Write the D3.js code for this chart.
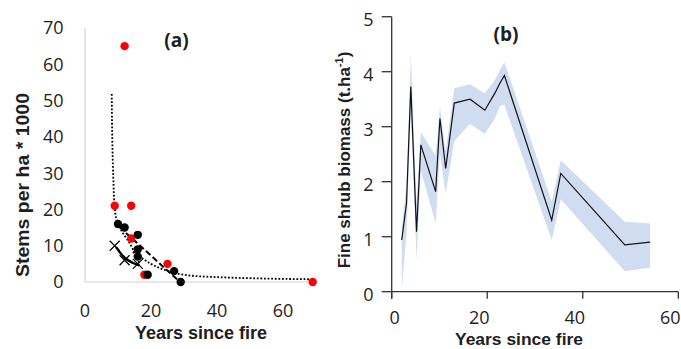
<!DOCTYPE html>
<html>
<head>
<meta charset="utf-8">
<script src="https://cdn.jsdelivr.net/npm/d3@7"></script>
<style>
  html, body { margin: 0; padding: 0; background: #fff; }
  svg { display: block; font-family: "Open Sans", "Noto Sans", sans-serif; }
</style>
</head>
<body>
<svg id="chart" width="681" height="349"></svg>
<script>
// ---------- Panel (a) data ----------
const redX   = [12, 9, 14, 14, 18, 25, 69];
const redY   = [65, 21, 21, 12, 2, 5, 0];
const blackX = [10, 12, 16, 16, 16, 19, 27, 29];
const blackY = [16, 15, 13, 9, 7, 2, 3, 0];
const crossX = [9, 12, 16];
const crossY = [10, 6, 5];
// trend lines
const dotted1X = [8.1, 8.6, 8.9, 9.6, 10.4, 13.9, 16.5];
const dotted1Y = [51.8, 28.1, 21.7, 17, 15.2, 10.1, 5.0];
const dotted2X = [14.5, 16, 20, 24.5, 31.1, 40, 50, 69.1];
const dotted2Y = [8.3, 7.4, 5.0, 3.2, 1.85, 1.35, 1.05, 0.74];
const dashedX  = [10.4, 28.8];
const dashedY  = [15.2, 0];
const solidX   = [9.4, 10.9, 12.4, 14.4, 16.5];
const solidY   = [9.6, 7.8, 6.4, 5.3, 4.6];
const aTicksX = [0, 20, 40, 60];
const aTicksY = [0, 10, 20, 30, 40, 50, 60, 70];

// ---------- Panel (b) data ----------
const bX  = [2.1, 3.1, 4.0, 5.2, 6.1, 9.2, 10.1, 11.3, 13.1, 16.4, 19.5, 21.6, 22.7, 23.6, 33.5, 35.4, 48.8, 54.1];
const bY  = [0.94, 1.61, 3.73, 1.09, 2.67, 1.82, 3.15, 2.24, 3.43, 3.50, 3.30, 3.61, 3.80, 3.93, 1.30, 2.15, 0.85, 0.90];
const bLo = [0.05, 1.05, 3.3, 0.58, 2.2, 1.25, 2.5, 1.78, 2.74, 3.05, 2.87, 3.15, 3.38, 3.40, 0.94, 1.68, 0.37, 0.44];
const bHi = [1.15, 1.95, 4.32, 1.6, 2.9, 2.47, 3.36, 2.55, 3.70, 3.77, 3.61, 3.85, 4.04, 4.17, 1.64, 2.39, 1.27, 1.24];
const bTicksX = [0, 20, 40, 60];
const bTicksY = [0, 1, 2, 3, 4, 5];

const svg = d3.select("#chart");
const txt = "#1e1e1e";
const titleFont = '"Liberation Sans", Arial, sans-serif';

// ================= Panel (a) =================
const xA = d3.scaleLinear().domain([0, 70]).range([85, 316]);
const yA = d3.scaleLinear().domain([0, 70]).range([282, 28]);
const gA = svg.append("g");

// axis lines (light grey, Excel style)
gA.append("line").attr("x1", xA(0)).attr("x2", xA(0)).attr("y1", yA(70)).attr("y2", yA(0))
  .attr("stroke", "#d4d4d4").attr("stroke-width", 1.2);
gA.append("line").attr("x1", xA(0)).attr("x2", xA(70)).attr("y1", yA(0)).attr("y2", yA(0))
  .attr("stroke", "#d4d4d4").attr("stroke-width", 1.2);

// tick labels
gA.selectAll(".ayl").data(aTicksY).join("text")
  .attr("x", 63.5).attr("y", d => yA(d)).attr("dy", "0.36em")
  .attr("text-anchor", "end").attr("font-size", 18).attr("fill", txt).text(d => d);
gA.selectAll(".axl").data(aTicksX).join("text")
  .attr("x", d => xA(d)).attr("y", 316.5)
  .attr("text-anchor", "middle").attr("font-size", 18).attr("fill", txt).text(d => d);

// titles
gA.append("text").attr("x", 201).attr("y", 338.5).attr("text-anchor", "middle")
  .attr("font-family", titleFont)
  .attr("font-size", 17.5).attr("font-weight", "bold").attr("fill", txt)
  .attr("textLength", 132).attr("lengthAdjust", "spacingAndGlyphs").text("Years since fire");
gA.append("text").attr("transform", "translate(29,185) rotate(-90)").attr("text-anchor", "middle")
  .attr("font-family", titleFont)
  .attr("font-size", 18).attr("font-weight", "bold").attr("fill", txt)
  .attr("textLength", 184).attr("lengthAdjust", "spacingAndGlyphs").text("Stems per ha * 1000");
gA.append("text").attr("x", 176.5).attr("y", 47).attr("text-anchor", "middle")
  .attr("font-size", 19).attr("font-weight", "bold").attr("fill", txt).text("(a)");

// trend lines
const lineA = (xs, ys, curve) => d3.line().x(i => xA(xs[i])).y(i => yA(ys[i])).curve(curve)(d3.range(xs.length));
gA.append("path").attr("d", lineA(dotted1X, dotted1Y, d3.curveMonotoneY))
  .attr("fill", "none").attr("stroke", "#000").attr("stroke-width", 1.8).attr("stroke-dasharray", "1.8,1.8");
gA.append("path").attr("d", lineA(dotted2X, dotted2Y, d3.curveMonotoneX))
  .attr("fill", "none").attr("stroke", "#000").attr("stroke-width", 1.8).attr("stroke-dasharray", "1.8,1.8");
gA.append("path").attr("d", lineA(dashedX, dashedY, d3.curveLinear))
  .attr("fill", "none").attr("stroke", "#000").attr("stroke-width", 2).attr("stroke-dasharray", "6,3");
gA.append("path").attr("d", lineA(solidX, solidY, d3.curveMonotoneX))
  .attr("fill", "none").attr("stroke", "#000").attr("stroke-width", 2.4);

// points
gA.selectAll(".red").data(d3.range(redX.length)).join("circle")
  .attr("cx", i => xA(redX[i])).attr("cy", i => yA(redY[i])).attr("r", 4.2).attr("fill", "#ff0000");
gA.selectAll(".blk").data(d3.range(blackX.length)).join("circle")
  .attr("cx", i => xA(blackX[i])).attr("cy", i => yA(blackY[i])).attr("r", 4.2).attr("fill", "#000");
const cs = 5;
gA.selectAll(".crs").data(d3.range(crossX.length)).join("path")
  .attr("d", i => {
    const cx = xA(crossX[i]), cy = yA(crossY[i]);
    return `M${cx - cs},${cy - cs}L${cx + cs},${cy + cs}M${cx - cs},${cy + cs}L${cx + cs},${cy - cs}`;
  })
  .attr("stroke", "#000").attr("stroke-width", 1.2).attr("fill", "none");

// ================= Panel (b) =================
const xB = d3.scaleLinear().domain([0, 60]).range([391.7, 678.3]);
const yB = d3.scaleLinear().domain([0, 5]).range([291.7, 16.7]);
const gB = svg.append("g");

const idx = d3.range(bX.length);
gB.append("path")
  .attr("d", d3.area().x(i => xB(bX[i])).y0(i => yB(bLo[i])).y1(i => yB(bHi[i]))(idx))
  .attr("fill", "#d0ddf0");
gB.append("path")
  .attr("d", d3.line().x(i => xB(bX[i])).y(i => yB(bY[i]))(idx))
  .attr("fill", "none").attr("stroke", "#111").attr("stroke-width", 1.2);

const axisCol = "#333";
// y axis
gB.append("line").attr("x1", xB(0)).attr("x2", xB(0)).attr("y1", yB(5)).attr("y2", yB(0) + 7)
  .attr("stroke", axisCol).attr("stroke-width", 1.3);
gB.selectAll(".byt").data(bTicksY).join("line")
  .attr("x1", xB(0) - 10).attr("x2", xB(0)).attr("y1", d => yB(d)).attr("y2", d => yB(d))
  .attr("stroke", axisCol).attr("stroke-width", 1.3);
gB.selectAll(".byl").data(bTicksY).join("text")
  .attr("x", 373.5).attr("y", d => yB(d)).attr("dy", "0.36em").attr("transform", "translate(0,3)")
  .attr("text-anchor", "end").attr("font-size", 18).attr("fill", txt).text(d => d);
// x axis
gB.append("line").attr("x1", xB(0)).attr("x2", xB(60)).attr("y1", yB(0)).attr("y2", yB(0))
  .attr("stroke", axisCol).attr("stroke-width", 1.3);
gB.selectAll(".bxt").data(bTicksX).join("line")
  .attr("x1", d => xB(d)).attr("x2", d => xB(d)).attr("y1", yB(0)).attr("y2", yB(0) + 7)
  .attr("stroke", axisCol).attr("stroke-width", 1.3);
gB.selectAll(".bxl").data(bTicksX).join("text")
  .attr("x", d => xB(d)).attr("dx", d => d === 0 ? 3 : -8).attr("y", 323.5)
  .attr("text-anchor", "middle").attr("font-size", 18).attr("fill", txt).text(d => d);

// titles
gB.append("text").attr("x", 519).attr("y", 345).attr("text-anchor", "middle")
  .attr("font-family", titleFont)
  .attr("font-size", 17).attr("font-weight", "bold").attr("fill", txt)
  .attr("textLength", 128).attr("lengthAdjust", "spacingAndGlyphs").text("Years since fire");
gB.append("text").attr("x", 506).attr("y", 41).attr("text-anchor", "middle")
  .attr("font-size", 19).attr("font-weight", "bold").attr("fill", txt).text("(b)");

const yt = gB.append("text").attr("transform", "translate(350,160) rotate(-90)").attr("text-anchor", "middle")
  .attr("font-family", titleFont)
  .attr("font-size", 17).attr("font-weight", "bold").attr("fill", txt);
yt.append("tspan").text("Fine shrub biomass (t.ha");
yt.append("tspan").attr("font-size", 11).attr("dy", "-0.6em").text("-1");
yt.append("tspan").attr("dy", "0.4em").text(")");
</script>
</body>
</html>
